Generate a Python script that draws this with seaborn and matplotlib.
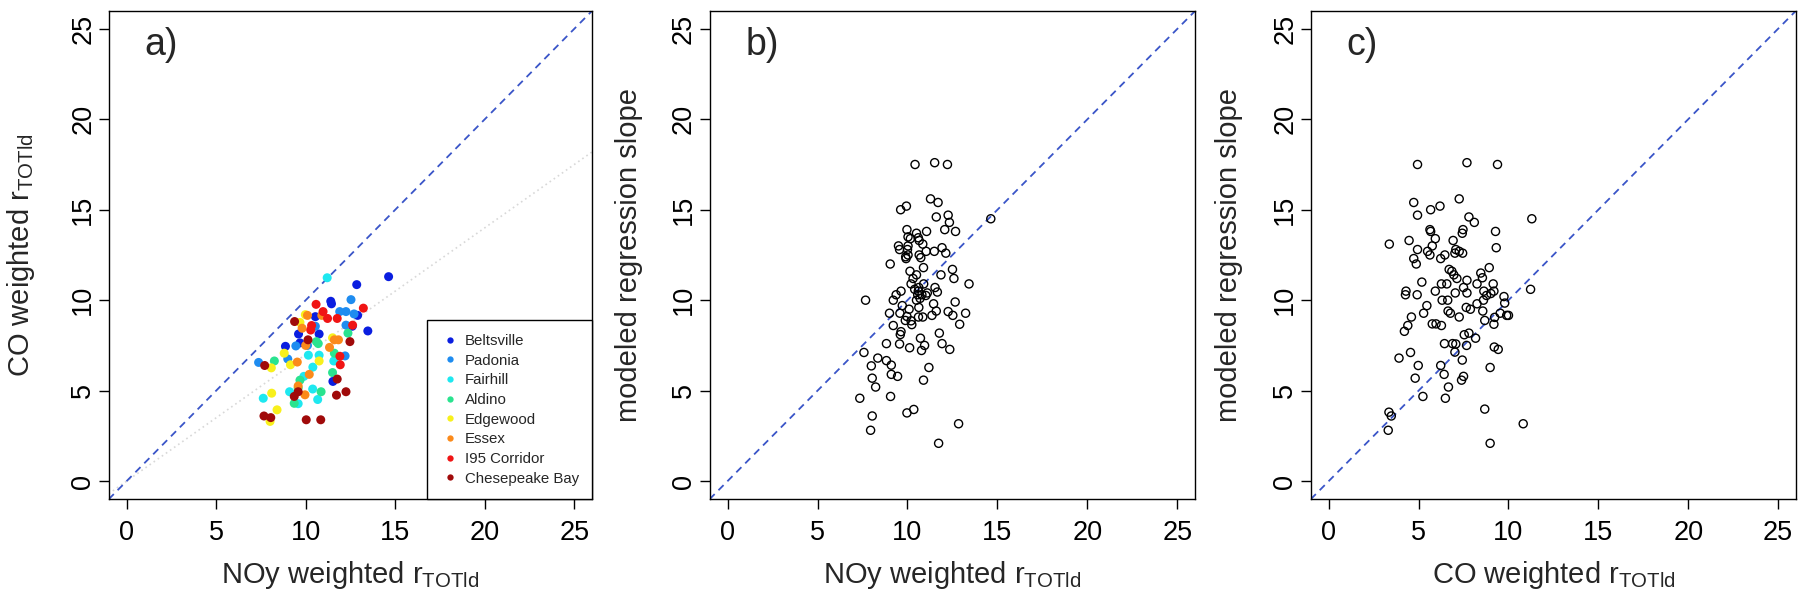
import matplotlib
matplotlib.use("Agg")
import matplotlib.pyplot as plt
import pandas as pd
import seaborn as sns

# ---- panel a: NOy vs CO weighted r_TOTld, per site ----
sites = ["Beltsville", "Padonia", "Fairhill", "Aldino", "Edgewood", "Essex",
         "I95 Corridor", "Chesepeake Bay"]
site_colors = ["#0a1ee0", "#1e8cf0", "#1ee8f0", "#2ae38f", "#f8f01c", "#fb8a1a",
               "#f01414", "#a00a0a"]

beltsville_x = [14.63, 12.85, 11.40, 11.44, 12.90, 13.47, 10.54, 10.75, 9.60, 8.87, 9.68, 11.52, 12.60]
beltsville_y = [11.30, 10.86, 9.94, 9.80, 9.16, 8.30, 9.09, 8.13, 8.13, 7.45, 7.64, 5.51, 8.56]
padonia_x = [12.53, 11.90, 12.25, 12.70, 12.25, 12.20, 7.37, 9.45, 10.54, 9.00, 10.10]
padonia_y = [10.03, 9.37, 9.37, 9.24, 8.62, 6.92, 6.56, 7.47, 8.56, 6.75, 7.50]
fairhill_x = [11.20, 7.63, 9.10, 9.58, 10.67, 10.39, 10.15, 11.57, 10.75, 9.90, 10.40]
fairhill_y = [11.24, 4.58, 4.94, 4.28, 4.51, 5.09, 6.96, 6.64, 6.96, 5.79, 6.30]
aldino_x = [8.25, 10.60, 10.70, 12.36, 11.50, 10.86, 9.68, 9.36, 11.60, 9.58]
aldino_y = [6.64, 7.71, 7.60, 8.18, 6.00, 4.94, 5.58, 4.30, 7.07, 5.15]
edgewood_x = [8.08, 8.10, 8.40, 8.01, 8.80, 9.15, 10.75, 11.50, 9.98, 9.68]
edgewood_y = [6.26, 4.86, 3.94, 3.30, 7.07, 6.43, 6.64, 7.92, 9.20, 8.77]
essex_x = [10.10, 10.90, 9.80, 10.00, 11.60, 11.33, 10.20, 9.58, 9.96, 9.53, 11.83]
essex_y = [9.16, 9.16, 8.45, 7.50, 7.81, 7.39, 5.90, 5.26, 4.77, 6.58, 7.81]
i95_x = [10.58, 10.97, 11.22, 11.76, 13.22, 12.62, 11.91, 11.93, 10.33, 10.28]
i95_y = [9.77, 9.37, 8.99, 8.99, 9.56, 8.62, 6.90, 6.43, 8.60, 8.35]
chesepeake_x = [7.71, 9.38, 10.13, 12.47, 11.76, 11.72, 12.25, 7.67, 8.05, 10.03, 10.84, 9.36, 9.58]
chesepeake_y = [6.39, 8.82, 7.81, 7.71, 5.64, 4.75, 4.94, 3.60, 3.51, 3.39, 3.39, 4.68, 4.94]

# ---- panel b: NOy weighted r_TOTld vs modeled regression slope ----
noy_b = [10.42, 11.51, 12.22, 11.28, 11.70, 9.94, 9.62, 11.60, 12.26, 12.33, 14.63, 12.07,
         12.67, 9.97, 10.50, 11.06, 10.16, 10.65, 10.85, 10.03, 9.56, 11.04, 11.92, 11.49,
         12.13, 10.65, 10.03, 9.92, 10.74, 9.04, 10.89, 12.50, 10.14, 11.86, 10.50, 12.58,
         10.31, 10.20, 10.90, 13.42, 10.63, 11.53, 9.64, 11.66, 9.37, 10.57, 11.02, 7.67,
         9.21, 12.65, 11.45, 9.71, 10.09, 10.63, 11.60, 12.26, 9.00, 9.58, 13.23, 12.52,
         11.36, 9.97, 10.61, 10.85, 10.24, 9.21, 12.90, 10.20, 9.88, 9.64, 9.60, 11.77,
         10.72, 8.83, 9.56, 11.92, 10.95, 10.12, 10.78, 12.35, 7.58, 8.35, 8.83, 9.10,
         7.99, 11.19, 9.10, 9.45, 8.04, 10.89, 8.23, 9.06, 7.35, 9.97, 10.35, 8.04,
         7.95, 12.84, 11.73, 10.40, 10.60, 10.80, 10.70, 10.50, 11.10, 10.03, 10.60, 9.50,
         10.00, 9.90]
slope_b = [17.50, 17.60, 17.50, 15.60, 15.40, 15.20, 15.00, 14.60, 14.70, 14.30, 14.50, 13.90,
           13.80, 13.90, 13.70, 13.80, 13.40, 13.30, 13.10, 13.00, 12.80, 12.70, 12.90, 12.70,
           12.60, 12.50, 12.50, 12.30, 12.35, 12.00, 11.80, 11.70, 11.60, 11.40, 11.40, 11.20,
           11.20, 10.90, 10.90, 10.90, 10.70, 10.70, 10.50, 10.45, 10.30, 10.30, 10.26, 10.00,
           10.00, 9.90, 9.80, 9.70, 9.50, 9.60, 9.40, 9.37, 9.28, 9.28, 9.28, 9.16,
           9.16, 9.10, 9.07, 9.07, 8.65, 8.60, 8.67, 8.86, 8.88, 8.26, 8.10, 8.18,
           7.90, 7.60, 7.58, 7.60, 7.50, 7.37, 7.22, 7.28, 7.11, 6.80, 6.66, 6.41,
           6.37, 6.28, 5.90, 5.79, 5.69, 5.58, 5.20, 4.68, 4.58, 3.77, 3.96, 3.60,
           2.81, 3.17, 2.09, 10.60, 10.50, 10.30, 10.10, 10.00, 10.40, 13.50, 13.45, 13.00,
           12.80, 12.40]

# ---- panel c: CO weighted r_TOTld vs modeled regression slope ----
co_c = [4.94, 7.69, 9.39, 7.26, 4.73, 6.19, 5.67, 4.94, 7.80, 8.10, 11.30, 5.63,
        5.67, 7.47, 7.43, 9.28, 3.37, 4.47, 5.93, 5.76, 6.92, 4.94, 9.32, 5.50,
        7.07, 7.26, 7.45, 5.63, 6.46, 4.73, 6.23, 7.02, 4.87, 8.93, 6.70, 6.85,
        8.46, 6.96, 7.13, 8.55, 7.69, 5.18, 6.27, 6.57, 9.15, 8.25, 7.50, 11.23,
        4.30, 5.93, 8.63, 9.19, 4.27, 4.92, 7.04, 7.69, 9.02, 8.78, 9.75, 8.61,
        6.31, 6.62, 9.79, 5.46, 8.25, 7.65, 7.88, 8.57, 6.64, 6.77, 5.28, 9.54,
        9.90, 10.00, 4.60, 7.26, 9.23, 8.68, 5.76, 5.97, 6.27, 4.40, 9.19, 4.21,
        7.80, 7.54, 8.17, 6.44, 6.89, 7.07, 7.67, 9.21, 9.43, 4.55, 7.02, 3.91,
        7.43, 6.23, 4.98, 8.98, 6.42, 7.50, 4.81, 7.39, 6.66, 5.24, 6.49, 8.68,
        3.35, 3.48, 3.31, 10.82, 8.98]
slope_c = [17.50, 17.60, 17.50, 15.60, 15.40, 15.20, 15.00, 14.70, 14.60, 14.30, 14.50, 13.90,
           13.80, 13.90, 13.70, 13.80, 13.10, 13.30, 13.40, 13.00, 13.30, 12.80, 12.90, 12.70,
           12.80, 12.70, 12.60, 12.50, 12.50, 12.30, 12.30, 12.60, 12.00, 11.80, 11.70, 11.60,
           11.50, 11.40, 11.20, 11.24, 11.10, 11.00, 10.90, 10.90, 10.90, 10.90, 10.70, 10.60,
           10.50, 10.50, 10.50, 10.50, 10.30, 10.30, 10.40, 10.40, 10.37, 10.26, 10.20, 10.00,
           10.00, 10.00, 9.84, 9.70, 9.80, 9.60, 9.50, 9.40, 9.40, 9.28, 9.28, 9.28,
           9.16, 9.16, 9.07, 9.07, 9.05, 8.88, 8.69, 8.69, 8.60, 8.60, 8.67, 8.28,
           8.18, 8.09, 7.90, 7.60, 7.60, 7.58, 7.50, 7.41, 7.28, 7.11, 7.13, 6.80,
           6.69, 6.39, 6.39, 6.28, 5.90, 5.79, 5.69, 5.58, 5.20, 4.68, 4.58, 3.98,
           3.81, 3.60, 2.81, 3.17, 2.09]

site_x = [beltsville_x, padonia_x, fairhill_x, aldino_x, edgewood_x, essex_x, i95_x, chesepeake_x]
site_y = [beltsville_y, padonia_y, fairhill_y, aldino_y, edgewood_y, essex_y, i95_y, chesepeake_y]

rows = []
for name, xs, ys in zip(sites, site_x, site_y):
    for xv, yv in zip(xs, ys):
        rows.append((name, xv, yv))
df_a = pd.DataFrame(rows, columns=["site", "noy", "co"])
df_b = pd.DataFrame({"noy": noy_b, "slope": slope_b})
df_c = pd.DataFrame({"co": co_c, "slope": slope_c})

sns.set_theme(style="ticks")
plt.rcParams["font.family"] = ["Liberation Sans", "DejaVu Sans"]
plt.rcParams["mathtext.default"] = "regular"
plt.rcParams["axes.edgecolor"] = "black"
plt.rcParams["axes.linewidth"] = 1.0
plt.rcParams["xtick.color"] = "black"
plt.rcParams["ytick.color"] = "black"

fig = plt.figure(figsize=(18, 5.95), dpi=100)
ax_a = fig.add_axes([0.0604, 0.161, 0.2686, 0.821])
ax_b = fig.add_axes([0.3942, 0.161, 0.2699, 0.821])
ax_c = fig.add_axes([0.7282, 0.161, 0.2696, 0.821])

lim = (-1, 26)
dash_color = "#3a55c8"

# panel a
ax_a.plot([-1, 26], [-0.7, 0.7 * 26], ls=(0, (1, 2)), color="#d8d8d8", lw=1.2, zorder=1)
ax_a.plot(lim, lim, ls=(0, (4, 3)), color=dash_color, lw=1.3, zorder=1)
sns.scatterplot(data=df_a, x="noy", y="co", hue="site", hue_order=sites,
                palette=dict(zip(sites, site_colors)), s=42, edgecolor="none",
                ax=ax_a, zorder=3)
handles, labels = ax_a.get_legend_handles_labels()
leg = ax_a.legend(handles, labels, loc="lower right", borderaxespad=0, fontsize=10.8,
                  frameon=True, fancybox=False, edgecolor="black", framealpha=1,
                  markerscale=0.7, handletextpad=0.4, labelspacing=0.38,
                  borderpad=0.9, handlelength=1.2)
leg.get_frame().set_linewidth(1.0)
ax_a.set_xlabel("NOy weighted r$_{TOTld}$", fontsize=21)
ax_a.set_ylabel("CO weighted r$_{TOTld}$", fontsize=21)
ax_a.yaxis.set_label_coords(-0.148, 0.5)
ax_a.text(1.0, 24.1, "a)", fontsize=27, ha="left", va="center")

# panel b
ax_b.plot(lim, lim, ls=(0, (4, 3)), color=dash_color, lw=1.3, zorder=1)
sns.scatterplot(data=df_b, x="noy", y="slope", s=34, facecolor="none",
                edgecolor="black", linewidth=1.0, ax=ax_b, zorder=3)
ax_b.set_xlabel("NOy weighted r$_{TOTld}$", fontsize=21)
ax_b.set_ylabel("modeled regression slope", fontsize=21)
ax_b.yaxis.set_label_coords(-0.137, 0.5)
ax_b.text(1.0, 24.1, "b)", fontsize=27, ha="left", va="center")

# panel c
ax_c.plot(lim, lim, ls=(0, (4, 3)), color=dash_color, lw=1.3, zorder=1)
sns.scatterplot(data=df_c, x="co", y="slope", s=34, facecolor="none",
                edgecolor="black", linewidth=1.0, ax=ax_c, zorder=3)
ax_c.set_xlabel("CO weighted r$_{TOTld}$", fontsize=21)
ax_c.set_ylabel("modeled regression slope", fontsize=21)
ax_c.yaxis.set_label_coords(-0.14, 0.5)
ax_c.text(1.0, 24.1, "c)", fontsize=27, ha="left", va="center")

for ax in (ax_a, ax_b, ax_c):
    ax.set_xlim(lim)
    ax.set_ylim(lim)
    ax.set_xticks([0, 5, 10, 15, 20, 25])
    ax.set_yticks([0, 5, 10, 15, 20, 25])
    ax.tick_params(axis="both", direction="out", length=7, width=1.0, labelsize=19.5)
    ax.tick_params(axis="x", pad=8)
    ax.tick_params(axis="y", pad=2, labelrotation=90)
    for t in ax.get_yticklabels():
        t.set_va("center")
    ax.xaxis.set_label_coords(0.5, -0.122)
    for sp in ax.spines.values():
        sp.set_visible(True)
        sp.set_color("black")

fig.savefig("out.png", dpi=100)
